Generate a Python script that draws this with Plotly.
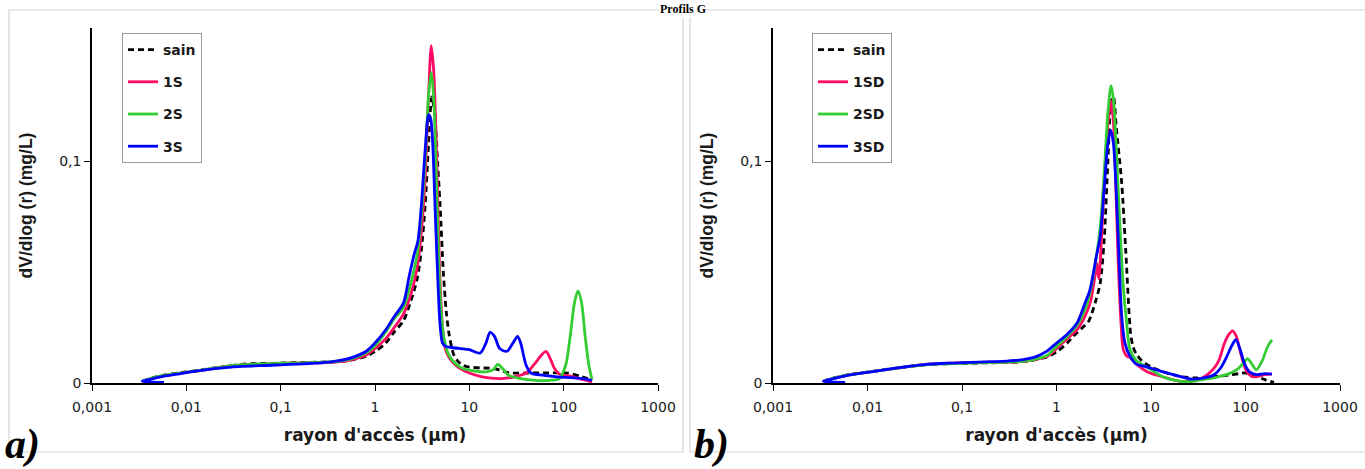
import plotly.graph_objects as go

W, H = 1365, 469

# ---------------- panel a) : sain / 1S / 2S / 3S ----------------
r_low = [0.0034, 0.0045, 0.006, 0.008, 0.011, 0.015, 0.02, 0.03, 0.04, 0.06,
         0.08, 0.1, 0.15, 0.2, 0.3, 0.4, 0.5, 0.6, 0.8]

a_sain_r = r_low + [1.0, 1.3, 1.6, 2.0, 2.4, 2.8, 3.1, 3.4, 3.7, 4.0, 4.3, 4.6, 4.9,
                    5.3, 5.7, 6.1, 6.8, 7.5, 8.5, 10, 13, 18, 22, 27, 40, 70, 110, 150, 200]
a_sain_v = [0.0008, 0.0025, 0.0037, 0.0045, 0.0052, 0.006, 0.0068, 0.0078, 0.0085, 0.0088,
            0.0088, 0.009, 0.0092, 0.0093, 0.0095, 0.0097, 0.0100, 0.0106, 0.012,
            0.0142, 0.018, 0.023, 0.028, 0.037, 0.047, 0.060, 0.080, 0.108, 0.129, 0.121, 0.100, 0.080,
            0.050, 0.032, 0.022, 0.013, 0.010, 0.008, 0.0072, 0.0068, 0.0066, 0.0055, 0.0045, 0.0045,
            0.0045, 0.0045, 0.003, 0.0015]

a_1s_r = r_low + [1.0, 1.3, 1.6, 2.0, 2.4, 2.8, 3.1, 3.4, 3.7, 3.95, 4.2, 4.45, 4.7, 4.9,
                  5.2, 5.6, 6.2, 7.0, 8, 10, 13, 17, 22, 30, 40, 50, 58, 65, 72, 80, 90, 120, 160, 200]
a_1s_v = [0.0008, 0.0022, 0.0034, 0.0042, 0.005, 0.0058, 0.0066, 0.0078, 0.0082, 0.0084,
          0.0086, 0.0088, 0.009, 0.0091, 0.0092, 0.0095, 0.0100, 0.0108, 0.0125,
          0.0155, 0.020, 0.025, 0.031, 0.040, 0.052, 0.068, 0.092, 0.130, 0.152, 0.140, 0.110,
          0.070, 0.045, 0.025, 0.015, 0.011, 0.0085, 0.0065, 0.0045, 0.003, 0.0022, 0.002,
          0.0028, 0.0045, 0.009, 0.0125, 0.0142, 0.011, 0.0065, 0.004, 0.003, 0.0015, 0.0005]

a_2s_r = r_low + [1.0, 1.3, 1.6, 2.0, 2.4, 2.8, 3.1, 3.4, 3.7, 3.95, 4.2, 4.45, 4.7, 5.0,
                  5.4, 6.0, 7.0, 8.5, 11, 15, 18, 20, 22, 26, 35, 50, 70, 90, 105, 118, 130,
                  142, 155, 170, 185, 200]
a_2s_v = [0.0008, 0.0024, 0.0035, 0.0043, 0.0051, 0.0059, 0.0067, 0.0078, 0.0083, 0.0086,
          0.0087, 0.0089, 0.009, 0.0092, 0.0094, 0.0098, 0.0104, 0.0113, 0.0135,
          0.0168, 0.023, 0.029, 0.034, 0.045, 0.058, 0.075, 0.100, 0.130, 0.140, 0.128, 0.095,
          0.060, 0.033, 0.020, 0.013, 0.009, 0.0065, 0.0055, 0.005, 0.006, 0.0085, 0.007,
          0.0035, 0.002, 0.0012, 0.0012, 0.002, 0.008, 0.022, 0.036, 0.0415, 0.036, 0.020,
          0.008, 0.0015]

a_3s_r = [0.0058] + r_low + [1.0, 1.3, 1.6, 2.0, 2.3, 2.6, 2.85, 3.1, 3.4, 3.7, 3.9, 4.1,
                             4.3, 4.6, 4.9, 5.2, 5.6, 6.5, 8, 10, 13, 15, 16.6, 18.5, 21, 25,
                             29, 32.5, 35, 40, 45, 60, 85, 120, 160, 200]
a_3s_v = [0.0003, 0.0008, 0.002, 0.0032, 0.004, 0.005, 0.0058, 0.0065, 0.0072, 0.0075, 0.0078,
          0.008, 0.0082, 0.0085, 0.0088, 0.0093, 0.010, 0.0108, 0.0118, 0.0142,
          0.018, 0.024, 0.030, 0.036, 0.048, 0.058, 0.064, 0.080, 0.105, 0.121, 0.119, 0.107,
          0.083, 0.050, 0.026, 0.018, 0.0165, 0.016, 0.0155, 0.015, 0.0135, 0.018, 0.0228,
          0.021, 0.0155, 0.0143, 0.018, 0.021, 0.018, 0.008, 0.0045, 0.0035, 0.0028, 0.0024,
          0.002, 0.0012]

# ---------------- panel b) : sain / 1SD / 2SD / 3SD ----------------
b_sain_r = r_low + [1.0, 1.3, 1.5, 2.0, 2.2, 2.6, 2.9, 3.2, 3.5, 3.8, 4.0, 4.3, 4.9, 5.4,
                    6.1, 6.5, 7.0, 8, 9.8, 13.5, 20, 30, 50, 68, 85, 102, 130, 160, 200]
b_sain_v = [0.0008, 0.0024, 0.0036, 0.0044, 0.0052, 0.006, 0.0067, 0.0076, 0.0082, 0.0086,
            0.0087, 0.0088, 0.009, 0.0091, 0.0093, 0.0095, 0.0099, 0.0105, 0.0118,
            0.0140, 0.018, 0.021, 0.026, 0.028, 0.037, 0.045, 0.065, 0.100, 0.127, 0.129, 0.115,
            0.090, 0.060, 0.022, 0.016, 0.013, 0.010, 0.0075, 0.005, 0.003, 0.0023, 0.003,
            0.0036, 0.0042, 0.0045, 0.003, 0.0015, 0.0003]

b_1sd_r = r_low + [1.0, 1.3, 1.65, 2.0, 2.3, 2.55, 2.68, 2.8, 2.95, 3.2, 3.5, 3.78, 4.0,
                   4.2, 4.45, 4.8, 5.1, 5.6, 6, 7, 9.2, 13.5, 20, 28, 35, 45, 52, 60, 67, 73,
                   80, 87, 95, 102, 115, 130, 160, 190]
b_1sd_v = [0.0008, 0.0022, 0.0034, 0.0043, 0.0051, 0.0059, 0.0066, 0.0077, 0.0084, 0.0088,
           0.009, 0.0092, 0.0093, 0.0093, 0.0094, 0.0096, 0.010, 0.0106, 0.012,
           0.0155, 0.020, 0.024, 0.030, 0.037, 0.048, 0.054, 0.047, 0.060, 0.090, 0.117, 0.127,
           0.118, 0.095, 0.060, 0.028, 0.015, 0.012, 0.0115, 0.0085, 0.005, 0.0027, 0.0008,
           0.001, 0.0023, 0.006, 0.010, 0.018, 0.022, 0.0235, 0.021, 0.015, 0.009, 0.0055,
           0.003, 0.0028, 0.0038, 0.004]

b_2sd_r = r_low + [1.0, 1.3, 1.65, 2.0, 2.3, 2.6, 2.9, 3.2, 3.5, 3.78, 4.0, 4.3, 4.6, 5.06,
                   5.5, 6, 7, 9.2, 13.5, 20, 26, 35, 50, 65, 81, 95, 105, 115, 130, 150, 170, 190]
b_2sd_v = [0.0008, 0.0023, 0.0035, 0.0043, 0.0051, 0.0059, 0.0066, 0.0076, 0.0082, 0.0086,
           0.0087, 0.0089, 0.0091, 0.0092, 0.0094, 0.0097, 0.0101, 0.0108, 0.0125,
           0.0165, 0.021, 0.026, 0.033, 0.042, 0.055, 0.070, 0.095, 0.122, 0.134, 0.128, 0.105,
           0.078, 0.045, 0.028, 0.015, 0.010, 0.007, 0.0027, 0.0008, 0.0006, 0.0015, 0.0027,
           0.004, 0.006, 0.009, 0.011, 0.009, 0.006, 0.010, 0.016, 0.0195]

b_3sd_r = [0.0058] + r_low + [1.0, 1.3, 1.65, 2.0, 2.26, 2.64, 2.9, 3.2, 3.5, 3.75, 4.0,
                              4.3, 4.6, 4.9, 5.3, 6, 7, 9.2, 13.5, 20, 26, 35, 46, 55, 63, 72,
                              79, 88, 97, 110, 130, 160, 190]
b_3sd_v = [0.0003, 0.0008, 0.0021, 0.0033, 0.0042, 0.005, 0.0059, 0.0067, 0.0077, 0.0083,
           0.0088, 0.009, 0.0092, 0.0094, 0.0096, 0.0099, 0.0103, 0.011, 0.0118, 0.0145,
           0.018, 0.022, 0.027, 0.036, 0.042, 0.057, 0.066, 0.088, 0.108, 0.114, 0.108,
           0.085, 0.055, 0.030, 0.018, 0.012, 0.0085, 0.0072, 0.005, 0.003, 0.0018, 0.0022,
           0.0036, 0.007, 0.0117, 0.017, 0.0195, 0.015, 0.009, 0.005, 0.0038, 0.0042, 0.004]

tick_vals = [0.001, 0.01, 0.1, 1, 10, 100, 1000]
tick_text = ["0,001", "0,01", "0,1", "1", "10", "100", "1000"]
y_tick_vals = [0, 0.1]
y_tick_text = ["0", "0,1"]

RED, GREEN, BLUE, BLACK = "#ff0a64", "#33cc33", "#0000ff", "#000000"

fig = go.Figure()


def add_series(r, v, name, color, xa, ya, legend, dash=None):
    fig.add_trace(go.Scatter(
        x=r, y=v, name=name, mode="lines", xaxis=xa, yaxis=ya, legend=legend,
        legendgroup=legend + name,
        line=dict(color=color, width=2.8, shape="spline", smoothing=0.8,
                  dash=dash if dash else "solid"),
    ))


add_series(a_sain_r, a_sain_v, "sain", BLACK, "x", "y", "legend", dash="6px,4px")
add_series(a_1s_r, a_1s_v, "1S", RED, "x", "y", "legend")
add_series(a_2s_r, a_2s_v, "2S", GREEN, "x", "y", "legend")
add_series(a_3s_r, a_3s_v, "3S", BLUE, "x", "y", "legend")

add_series(b_sain_r, b_sain_v, "sain", BLACK, "x2", "y2", "legend2", dash="6px,4px")
add_series(b_1sd_r, b_1sd_v, "1SD", RED, "x2", "y2", "legend2")
add_series(b_2sd_r, b_2sd_v, "2SD", GREEN, "x2", "y2", "legend2")
add_series(b_3sd_r, b_3sd_v, "3SD", BLUE, "x2", "y2", "legend2")


def px_x(p):
    return p / W


def px_y(p):
    return 1 - p / H


tick_font = dict(family="DejaVu Sans", size=14, color="#1a1a1a")
xtitle_font = dict(family="DejaVu Sans", size=17, color="#1a1a1a", weight="bold")
ytitle_font = dict(family="Liberation Sans", size=17.5, color="#1a1a1a", weight="bold")

y_dom = [px_y(383), px_y(28)]


def x_axis(dom):
    return dict(
        type="log", domain=dom, range=[-3, 3], automargin=False,
        tickvals=tick_vals, ticktext=tick_text, tickfont=tick_font,
        ticks="outside", ticklen=6, tickwidth=1.3, tickcolor="#000",
        ticklabelstandoff=4,
        showline=True, linecolor="#000", linewidth=1.5,
        showgrid=False, zeroline=False,
        title=dict(text="rayon d'accès (µm)", font=xtitle_font, standoff=16),
    )


def y_axis(anchor):
    return dict(
        domain=y_dom, range=[0, 0.16], anchor=anchor, automargin=False,
        tickvals=y_tick_vals, ticktext=y_tick_text, tickfont=tick_font,
        ticks="outside", ticklen=6, tickwidth=1.3, tickcolor="#000",
        showline=True, linecolor="#000", linewidth=1.5,
        showgrid=False, zeroline=False,
        title=dict(text="dV/dlog (r) (mg/L)", font=ytitle_font, standoff=22),
    )


legend_style = dict(
    font=dict(family="DejaVu Sans", size=14, color="#1a1a1a", weight="bold"),
    bgcolor="white", bordercolor="#9a9a9a", borderwidth=1,
    xanchor="left", yanchor="top", tracegroupgap=11, itemwidth=30,
)

fig.update_layout(
    width=W, height=H,
    margin=dict(l=0, r=0, t=0, b=0, autoexpand=False),
    paper_bgcolor="white", plot_bgcolor="white",
    xaxis=dict(x_axis([px_x(92), px_x(658)]), anchor="y"),
    yaxis=y_axis("x"),
    xaxis2=dict(x_axis([px_x(773), px_x(1340)]), anchor="y2"),
    yaxis2=y_axis("x2"),
    legend=dict(legend_style, x=px_x(122), y=px_y(33)),
    legend2=dict(legend_style, x=px_x(812), y=px_y(33)),
)

# light frames around the two panels
for x0, x1 in [(9, 683), (690, 1372)]:
    fig.add_shape(type="rect", xref="paper", yref="paper",
                  x0=px_x(x0), x1=px_x(x1), y0=px_y(452), y1=px_y(10),
                  line=dict(color="#d4d4d4", width=1.2), layer="below")

# panel letters
for label, xp in [("a)", 4), ("b)", 693)]:
    fig.add_annotation(text=label, xref="paper", yref="paper",
                       x=px_x(xp), y=0.0, xanchor="left", yanchor="bottom",
                       showarrow=False, borderpad=0,
                       font=dict(family="Liberation Serif", size=42, color="#000",
                                 weight="bold", style="italic"))

# figure heading at the very top
fig.add_annotation(text="Profils G", xref="paper", yref="paper",
                   x=px_x(683), y=1.0, xanchor="center", yanchor="top",
                   showarrow=False, bgcolor="white",
                   font=dict(family="Liberation Serif", size=12, color="#000",
                             weight="bold"))

fig.write_html("out.html")
